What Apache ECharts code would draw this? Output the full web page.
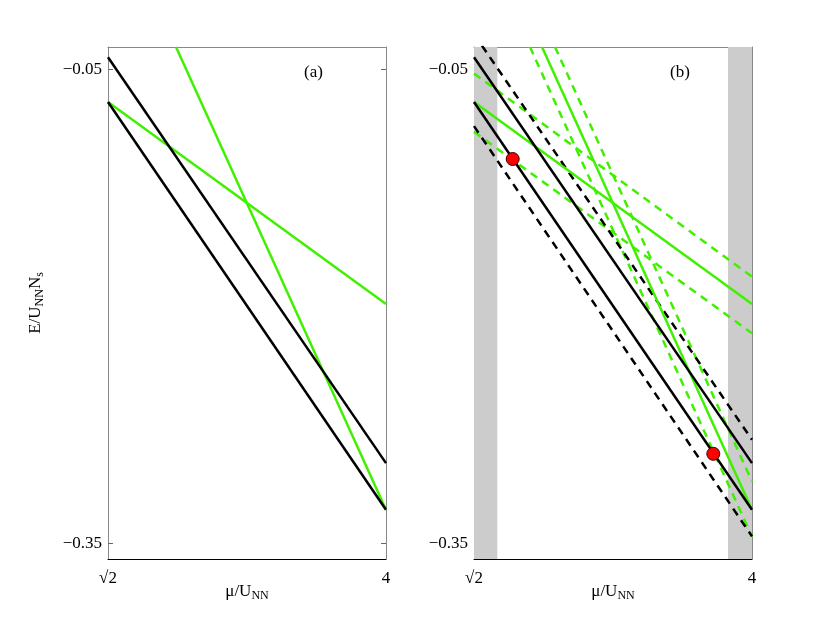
<!DOCTYPE html>
<html>
<head>
<meta charset="utf-8">
<script src="https://cdn.jsdelivr.net/npm/echarts@6/dist/echarts.min.js"></script>
<style>html,body{margin:0;padding:0;background:#fff;}#c{width:830px;height:630px;}</style>
</head>
<body>
<div id="c"></div>
<script>
// ---- data (mu / U_NN, E / U_NN N_s) ----
const muRange = [Math.SQRT2, 4];
const yTicks = [-0.35, -0.05];
const xTickLabels = ['√2', '4'];
const panelLabels = ['(a)', '(b)'];

const blackSolid1 = [[Math.SQRT2, -0.0421], [4, -0.2990]];
const blackSolid2 = [[Math.SQRT2, -0.0704], [4, -0.3285]];
const greenSteep = [[2.047, -0.0356], [4, -0.3285]];
const greenShallow = [[Math.SQRT2, -0.0704], [4, -0.1983]];

const blackDashUp = [[Math.SQRT2, -0.0274], [4, -0.2842]];
const blackDashLo = [[Math.SQRT2, -0.0857], [4, -0.3454]];
const greenShallowDashUp = [[Math.SQRT2, -0.0524], [4, -0.1810]];
const greenShallowDashLo = [[Math.SQRT2, -0.0893], [4, -0.2168]];
const greenSteepDashUp = [[2.168, -0.0356], [4, -0.3106]];
const greenSteepDashLo = [[1.935, -0.0356], [4, -0.3456]];

const redPoints = [[1.774, -0.1065], [3.640, -0.2931]];
const greyBands = [[Math.SQRT2, 1.631], [3.777, 4]];

const yMin = -0.3597, yMax = -0.0356;

// ---- styling ----
const GREEN = '#40f000';
const FONT = 'Liberation Serif';
const grids = [
  {left: 108, top: 47, width: 278, height: 512},
  {left: 474, top: 47, width: 278, height: 512}
];

const xAxes = [], yAxes = [];
grids.forEach((g, i) => {
  xAxes.push({
    type: 'value', gridIndex: i, min: muRange[0], max: muRange[1], position: 'bottom',
    axisLine: {show: true, lineStyle: {color: '#000', width: 1}},
    axisTick: {show: false}, splitLine: {show: false},
    axisLabel: {customValues: muRange, formatter: v => (v < 2 ? xTickLabels[0] : xTickLabels[1]),
      color: '#000', fontFamily: FONT, fontSize: 17, margin: 11},
    name: '{a|μ/U}{s|NN}', nameLocation: 'middle', nameGap: 22, nameMoveOverlap: false,
    nameTextStyle: {rich: {
      a: {fontFamily: FONT, fontSize: 17, color: '#000'},
      s: {fontFamily: FONT, fontSize: 12, color: '#000', verticalAlign: 'bottom', padding: [9, 0, 0, 0]}
    }}
  });
  xAxes.push({
    type: 'value', gridIndex: i, min: muRange[0], max: muRange[1], position: 'top',
    axisLine: {show: true, lineStyle: {color: '#888', width: 1}},
    axisTick: {show: false}, axisLabel: {show: false}, splitLine: {show: false}
  });
  yAxes.push({
    type: 'value', gridIndex: i, min: yMin, max: yMax, position: 'left',
    axisLine: {show: true, lineStyle: {color: '#888', width: 1}},
    axisTick: {show: true, inside: true, length: 5, customValues: yTicks, lineStyle: {color: '#666'}},
    splitLine: {show: false},
    axisLabel: {customValues: yTicks, formatter: v => (v < 0 ? '\u2212' + Math.abs(v).toFixed(2) : v.toFixed(2)),
      color: '#000', fontFamily: FONT, fontSize: 17, margin: 6},
    name: i === 0 ? '{a|E/U}{s|NN}{a|N}{s|s}' : '', nameLocation: 'middle', nameGap: 62, nameRotate: 90,
    nameTextStyle: {rich: {
      a: {fontFamily: FONT, fontSize: 17, color: '#000'},
      s: {fontFamily: FONT, fontSize: 12, color: '#000', verticalAlign: 'bottom', padding: [9, 0, 0, 0]}
    }}
  });
  yAxes.push({
    type: 'value', gridIndex: i, min: yMin, max: yMax, position: 'right',
    axisLine: {show: true, lineStyle: {color: '#888', width: 1}},
    axisTick: {show: true, inside: true, length: 5, customValues: yTicks, lineStyle: {color: '#666'}},
    axisLabel: {show: false}, splitLine: {show: false}
  });
});

function line(data, panel, color, dashed) {
  return {
    type: 'line', xAxisIndex: panel * 2, yAxisIndex: panel * 2, data: data,
    showSymbol: false, symbol: 'none', clip: true, silent: true, animation: false,
    lineStyle: {color: color, width: 2.5, type: dashed ? [8, 6] : 'solid'}, z: dashed ? 3 : 4
  };
}

const series = [];
// panel (a)
series.push(line(greenSteep, 0, GREEN));
series.push(line(greenShallow, 0, GREEN));
series.push(line(blackSolid1, 0, '#000'));
series.push(line(blackSolid2, 0, '#000'));
// panel (b)
series.push({
  type: 'line', xAxisIndex: 2, yAxisIndex: 2, data: [], silent: true, animation: false,
  markArea: {silent: true, itemStyle: {color: '#cccccc'},
    data: greyBands.map(b => [{xAxis: b[0]}, {xAxis: b[1]}])}, z: 1
});
series.push(line(greenShallowDashUp, 1, GREEN, true));
series.push(line(greenShallowDashLo, 1, GREEN, true));
series.push(line(greenSteepDashUp, 1, GREEN, true));
series.push(line(greenSteepDashLo, 1, GREEN, true));
series.push(line(blackDashUp, 1, '#000', true));
series.push(line(blackDashLo, 1, '#000', true));
series.push(line(greenSteep, 1, GREEN));
series.push(line(greenShallow, 1, GREEN));
series.push(line(blackSolid1, 1, '#000'));
series.push(line(blackSolid2, 1, '#000'));
series.push({
  type: 'scatter', xAxisIndex: 2, yAxisIndex: 2, data: redPoints, symbolSize: 13, clip: false,
  itemStyle: {color: '#ff0000', borderColor: '#400000', borderWidth: 1, opacity: 1}, z: 10, animation: false
});

const chart = echarts.init(document.getElementById('c'));
chart.setOption({
  backgroundColor: '#fff',
  animation: false,
  grid: grids,
  xAxis: xAxes,
  yAxis: yAxes,
  series: series,
  graphic: [
    {type: 'text', left: 304, top: 64, style: {text: panelLabels[0], font: '17px "Liberation Serif"', fill: '#000'}},
    {type: 'text', left: 670, top: 64, style: {text: panelLabels[1], font: '17px "Liberation Serif"', fill: '#000'}}
  ]
});
</script>
</body>
</html>
